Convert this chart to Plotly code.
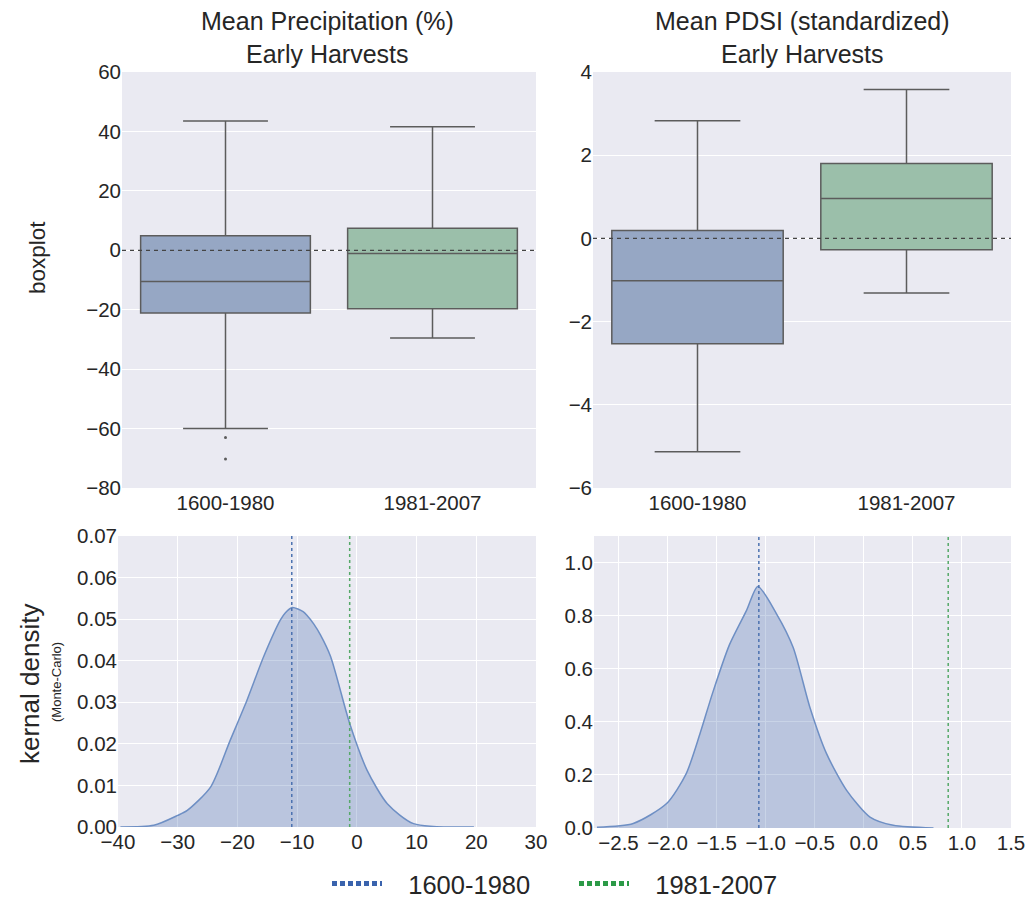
import plotly.graph_objects as go

# ---------------- data ----------------
categories = ["1600-1980", "1981-2007"]

precip_q1 = [-21.1, -19.7]
precip_median = [-10.5, -1.1]
precip_q3 = [4.9, 7.4]
precip_lower = [-60.0, -29.5]
precip_upper = [43.5, 41.6]
precip_outliers = [-63.0, -70.2]

pdsi_q1 = [-2.53, -0.27]
pdsi_median = [-1.02, 0.96]
pdsi_q3 = [0.19, 1.80]
pdsi_lower = [-5.13, -1.31]
pdsi_upper = [2.83, 3.58]

kde_precip_x = [-39.6, -34.0, -30.0, -28.4, -24.5, -21.2, -18.4, -15.6, -12.8, -12.0,
                -10.8, -9.0, -8.3, -7.2, -6.1, -4.4, -1.2, 1.7, 5.1, 9.5, 19.6]
kde_precip_y = [0.0, 0.0004, 0.0028, 0.004, 0.0096, 0.0209, 0.0305, 0.041, 0.0498, 0.0515,
                0.0528, 0.0518, 0.0508, 0.0488, 0.0462, 0.041, 0.0249, 0.0137, 0.0056, 0.0008, 0.0]
precip_means = [-10.9, -1.2]

kde_pdsi_x = [-2.72, -2.35, -2.01, -1.81, -1.67, -1.54, -1.37, -1.195, -1.08,
              -0.89, -0.72, -0.55, -0.38, -0.175, 0.063, 0.30, 0.71]
kde_pdsi_y = [0.003, 0.017, 0.092, 0.205, 0.355, 0.51, 0.69, 0.82, 0.91,
              0.807, 0.68, 0.455, 0.28, 0.142, 0.041, 0.01, 0.0]
pdsi_means = [-1.07, 0.86]

title_lines = [["Mean Precipitation (%)", "Early Harvests"],
               ["Mean PDSI (standardized)", "Early Harvests"]]

# ---------------- style ----------------
W, H = 1031, 899
FONT = "Liberation Sans, Arial, Helvetica, sans-serif"
TXT = "#262626"
BG = "#EAEAF2"
box_fill = ["#96A7C4", "#9BBFAA"]
box_line = "#5c5c5c"
line_cols = ["#4C72B0", "#55A868"]
legend_cols = ["#3A63AD", "#2C9A47"]
NB = "\u00a0\u00a0\u00a0"


def px_x(a, b):
    return [a / W, b / W]


def px_y(top, bottom):
    return [1 - bottom / H, 1 - top / H]


fig = go.Figure()

box_sets = [
    ("x", "y", precip_q1, precip_median, precip_q3, precip_lower, precip_upper),
    ("x2", "y2", pdsi_q1, pdsi_median, pdsi_q3, pdsi_lower, pdsi_upper),
]
for xa, ya, q1, med, q3, lo, up in box_sets:
    for i, cat in enumerate(categories):
        fig.add_trace(go.Box(
            x=[cat], q1=[q1[i]], median=[med[i]], q3=[q3[i]],
            lowerfence=[lo[i]], upperfence=[up[i]],
            xaxis=xa, yaxis=ya, width=0.82, whiskerwidth=0.5,
            fillcolor=box_fill[i], line=dict(color=box_line, width=1.5),
            boxpoints=False, showlegend=False, hoverinfo="skip",
        ))

fig.add_trace(go.Scatter(
    x=[categories[0]] * len(precip_outliers), y=precip_outliers,
    mode="markers", marker=dict(size=3, color=box_line),
    xaxis="x", yaxis="y", showlegend=False, hoverinfo="skip"))

for xa, ya, kx, ky in [("x3", "y3", kde_precip_x, kde_precip_y),
                       ("x4", "y4", kde_pdsi_x, kde_pdsi_y)]:
    fig.add_trace(go.Scatter(
        x=kx, y=ky, mode="lines",
        line=dict(color="#6E8FC4", width=1.5, shape="spline", smoothing=0.7),
        fill="tozeroy", fillcolor="rgba(76,114,176,0.30)",
        xaxis=xa, yaxis=ya, showlegend=False, hoverinfo="skip"))

for i, cat in enumerate(categories):
    fig.add_trace(go.Scatter(
        x=[None], y=[None], mode="lines", name=NB + cat,
        line=dict(color=legend_cols[i], width=5, dash="5px,3px"),
        xaxis="x3", yaxis="y3", showlegend=True))

shapes = []
for xa, ya in [("x", "y"), ("x2", "y2")]:
    shapes.append(dict(type="line", xref=xa + " domain", yref=ya, x0=0, x1=1, y0=0, y1=0,
                       line=dict(color="#444444", width=1.2, dash="4px,4px"), layer="above"))
for xa, ya, means in [("x3", "y3", precip_means), ("x4", "y4", pdsi_means)]:
    for i, m in enumerate(means):
        shapes.append(dict(type="line", xref=xa, yref=ya + " domain", x0=m, x1=m, y0=0, y1=1,
                           line=dict(color=line_cols[i], width=1.5, dash="3px,3px"), layer="above"))

tickfont = dict(family=FONT, size=20.5, color=TXT)
common = dict(showline=False, zeroline=False, ticks="", tickfont=tickfont,
              gridcolor="white", gridwidth=1, automargin=False)

annotations = []
for lines, cx in zip(title_lines, [327, 802]):
    for ln, cy in zip(lines, [21, 54]):
        annotations.append(dict(text=ln, x=cx / W, y=1 - cy / H, xref="paper", yref="paper",
                                xanchor="center", yanchor="middle", showarrow=False,
                                font=dict(family=FONT, size=25, color=TXT)))
annotations.append(dict(text="boxplot", x=38 / W, y=1 - 258 / H, xref="paper", yref="paper",
                        textangle=-90, showarrow=False, xanchor="center", yanchor="middle",
                        font=dict(family=FONT, size=22.5, color=TXT)))
annotations.append(dict(text="kernal density", x=30 / W, y=1 - 684 / H, xref="paper", yref="paper",
                        textangle=-90, showarrow=False, xanchor="center", yanchor="middle",
                        font=dict(family=FONT, size=26, color=TXT)))
annotations.append(dict(text="(Monte-Carlo)", x=56 / W, y=1 - 682 / H, xref="paper", yref="paper",
                        textangle=-90, showarrow=False, xanchor="center", yanchor="middle",
                        font=dict(family=FONT, size=13, color=TXT)))

fig.update_layout(
    width=W, height=H, margin=dict(l=0, r=0, t=0, b=0, autoexpand=False),
    paper_bgcolor="white", plot_bgcolor=BG,
    font=dict(family=FONT, color=TXT),
    boxmode="overlay",
    shapes=shapes, annotations=annotations,
    legend=dict(orientation="h", x=327 / W, xanchor="left", y=1 - 884 / H, yanchor="middle",
                font=dict(family=FONT, size=25.5, color=TXT), bgcolor="rgba(0,0,0,0)",
                itemwidth=50, entrywidth=182, tracegroupgap=0),
    xaxis=dict(domain=px_x(122, 536), type="category", range=[-0.5, 1.5], showgrid=False,
               categoryorder="array", categoryarray=categories, anchor="y", **common),
    yaxis=dict(domain=px_y(72, 488), range=[-80, 60], tickvals=[-80, -60, -40, -20, 0, 20, 40, 60],
               anchor="x", **common),
    xaxis2=dict(domain=px_x(593, 1011), type="category", range=[-0.5, 1.5], showgrid=False,
                categoryorder="array", categoryarray=categories, anchor="y2", **common),
    yaxis2=dict(domain=px_y(72, 488), range=[-6, 4], tickvals=[-6, -4, -2, 0, 2, 4],
                anchor="x2", **common),
    xaxis3=dict(domain=px_x(118, 536), range=[-40, 30], tick0=-40, dtick=10, anchor="y3", **common),
    yaxis3=dict(domain=px_y(536, 827), range=[0, 0.07], tick0=0, dtick=0.01, tickformat=".2f",
                anchor="x3", **common),
    xaxis4=dict(domain=px_x(594, 1011), range=[-2.75, 1.5], tick0=-2.5, dtick=0.5, tickformat=".1f",
                anchor="y4", **common),
    yaxis4=dict(domain=px_y(536, 828), range=[0, 1.1], tick0=0, dtick=0.2, tickformat=".1f",
                anchor="x4", **common),
)

fig.write_html("out.html")
